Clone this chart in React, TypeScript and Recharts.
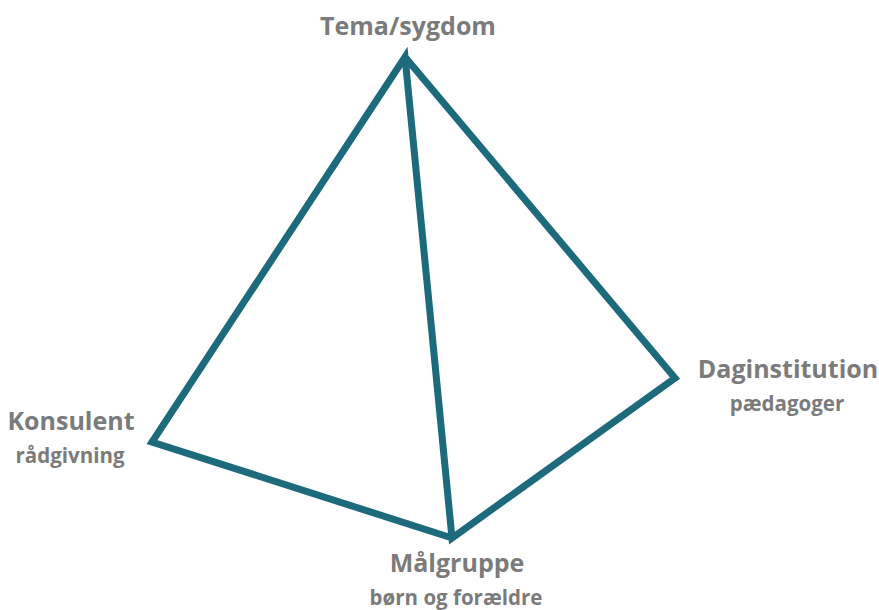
import { ComposedChart, Line, Scatter, XAxis, YAxis } from 'recharts'

// pyramid corners (x right, y down)
const corners = [
  { name: 'Målgruppe', x: 452, y: 538 },
  { name: 'Konsulent', x: 152, y: 442 },
  { name: 'Tema/sygdom', x: 405, y: 57 },
  { name: 'Målgruppe', x: 452, y: 538 },
  { name: 'Daginstitution', x: 675, y: 378 },
  { name: 'Tema/sygdom', x: 405, y: 57 },
]

const titles = ['Tema/sygdom', 'Daginstitution', 'Konsulent', 'Målgruppe']
const subtitles = ['', 'pædagoger', 'rådgivning', 'børn og forældre']
const labelX = [408, 788, 71, 457]
const labelY = [35, 378, 430, 572]

const labels = titles.map((title, i) => ({ title, sub: subtitles[i], x: labelX[i], y: labelY[i] }))

const edge = '#1d6a7d'
const grey = '#7b7b7b'

function LabelShape(props: any) {
  const { cx, cy, payload } = props
  return (
    <g>
      <text x={cx} y={cy} textAnchor="middle" fill={grey} fontSize={25} fontWeight={700}
        fontFamily="'Open Sans', sans-serif">
        {payload.title}
      </text>
      {payload.sub && (
        <text x={cx - 1} y={cy + 33} textAnchor="middle" fill={grey} fontSize={20.5} fontWeight={700}
          fontFamily="'Open Sans', sans-serif">
          {payload.sub}
        </text>
      )}
    </g>
  )
}

export default function App() {
  return (
    <div style={{ position: 'absolute', left: 0, top: 0, background: '#fff' }}>
      <ComposedChart width={879} height={610} margin={{ top: 0, right: 0, bottom: 0, left: 0 }}>
        <XAxis type="number" dataKey="x" domain={[0, 879]} hide allowDataOverflow />
        <YAxis type="number" dataKey="y" domain={[0, 610]} reversed hide allowDataOverflow />
        <Line data={corners} dataKey="y" type="linear" stroke={edge} strokeWidth={7}
          strokeLinejoin="miter" dot={false} isAnimationActive={false} />
        <Scatter data={labels} dataKey="y" shape={LabelShape} isAnimationActive={false} />
      </ComposedChart>
    </div>
  )
}
